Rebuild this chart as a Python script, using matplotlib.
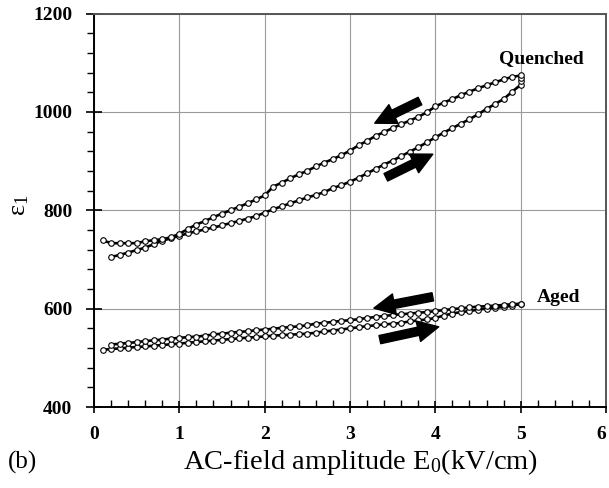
import matplotlib
matplotlib.use('Agg')
import matplotlib.pyplot as plt
from matplotlib.ticker import MultipleLocator

plt.rcParams['font.family'] = ['Liberation Serif', 'DejaVu Serif']
plt.rcParams['mathtext.fontset'] = 'custom'
plt.rcParams['mathtext.rm'] = 'Liberation Serif'
plt.rcParams['mathtext.it'] = 'Liberation Serif:italic'

# Quenched sample, field going up (lower branch)
q_up_x = [0.2, 0.3, 0.4, 0.5, 0.6, 0.7, 0.8, 0.9, 1.0, 1.1, 1.2, 1.3, 1.4, 1.5, 1.6, 1.7,
          1.8, 1.9, 2.0, 2.1, 2.2, 2.3, 2.4, 2.5, 2.6, 2.7, 2.8, 2.9, 3.0, 3.1, 3.2, 3.3,
          3.4, 3.5, 3.6, 3.7, 3.8, 3.9, 4.0, 4.1, 4.2, 4.3, 4.4, 4.5, 4.6, 4.7, 4.8, 4.9,
          5.0, 5.0, 5.0]
q_up_y = [705, 709, 714, 719, 724, 731, 738, 743, 748, 753, 757, 761, 765, 769, 774, 778,
          783, 788, 795, 802, 808, 814, 820, 826, 831, 837, 845, 851, 858, 866, 875, 884,
          893, 901, 910, 919, 928, 938, 948, 958, 967, 976, 985, 995, 1006, 1016, 1026, 1041,
          1055, 1062, 1068]
# Quenched sample, field going down (upper branch)
q_down_x = [5.0, 4.9, 4.8, 4.7, 4.6, 4.5, 4.4, 4.3, 4.2, 4.1, 4.0, 3.9, 3.8, 3.7, 3.6, 3.5,
            3.4, 3.3, 3.2, 3.1, 3.0, 2.9, 2.8, 2.7, 2.6, 2.5, 2.4, 2.3, 2.2, 2.1, 2.0, 1.9,
            1.8, 1.7, 1.6, 1.5, 1.4, 1.3, 1.2, 1.1, 1.0, 0.9, 0.8, 0.7, 0.6, 0.5, 0.4, 0.3,
            0.2, 0.1]
q_down_y = [1074, 1071, 1066, 1060, 1054, 1048, 1041, 1034, 1026, 1019, 1011, 999, 990, 982, 975, 967,
            959, 951, 941, 932, 921, 912, 904, 897, 889, 880, 873, 865, 856, 848, 830, 822,
            814, 807, 800, 793, 786, 778, 771, 762, 752, 745, 741, 739, 737, 733, 733, 733,
            733, 739]

# Aged sample, field going up (lower branch)
a_up_x = [0.1, 0.2, 0.3, 0.4, 0.5, 0.6, 0.7, 0.8, 0.9, 1.0, 1.1, 1.2, 1.3, 1.4, 1.5, 1.6,
          1.7, 1.8, 1.9, 2.0, 2.1, 2.2, 2.3, 2.4, 2.5, 2.6, 2.7, 2.8, 2.9, 3.0, 3.1, 3.2,
          3.3, 3.4, 3.5, 3.6, 3.7, 3.8, 3.9, 4.0, 4.1, 4.2, 4.3, 4.4, 4.5, 4.6, 4.7, 4.8,
          4.9, 5.0]
a_up_y = [516, 518, 519, 520.5, 522, 523, 524.5, 526, 527.5, 529, 530.5, 532, 533.5, 535, 536.5, 538,
          539.5, 541, 542, 543.5, 545, 546, 547, 548, 549, 551, 553.5, 555.5, 557.5, 560, 562, 564.5,
          566, 568, 569, 571, 574, 576, 578, 581, 586, 590, 593, 595, 598, 600, 601.5, 603.5,
          606, 609.5]
# Aged sample, field going down (upper branch)
a_down_x = [5.0, 4.9, 4.8, 4.7, 4.6, 4.5, 4.4, 4.3, 4.2, 4.1, 4.0, 3.9, 3.8, 3.7, 3.6, 3.5,
            3.4, 3.3, 3.2, 3.1, 3.0, 2.9, 2.8, 2.7, 2.6, 2.5, 2.4, 2.3, 2.2, 2.1, 2.0, 1.9,
            1.8, 1.7, 1.6, 1.5, 1.4, 1.3, 1.2, 1.1, 1.0, 0.9, 0.8, 0.7, 0.6, 0.5, 0.4, 0.3,
            0.2]
a_down_y = [610, 609, 607.5, 606, 605, 604, 602.5, 600.5, 599, 597, 595, 593, 591.5, 590, 588.5, 587,
            585, 583, 581, 578.5, 576.5, 575, 573, 571, 569.5, 566, 564, 562.5, 561, 559, 557.5, 556,
            554, 552.5, 551, 549, 547.5, 545, 543, 542, 540.5, 539, 537, 535.5, 534, 532, 530, 528.5,
            527]

x_ticks = [0, 1, 2, 3, 4, 5, 6]
y_ticks = [400, 600, 800, 1000, 1200]

fig = plt.figure(figsize=(6.09, 4.88), dpi=100)
ax = fig.add_axes([94/609, 81/488, 512/609, 393.5/488])

ax.grid(True, color='#9a9a9a', lw=0.8)
ax.set_axisbelow(True)

style = dict(color='k', lw=1.9, marker='o', ms=4.0, mfc='white', mec='k', mew=0.8)
for xs, ys in [(q_up_x, q_up_y), (q_down_x, q_down_y), (a_up_x, a_up_y), (a_down_x, a_down_y)]:
    ax.plot(xs, ys, **style)

ax.set_xlim(0, 6)
ax.set_ylim(400, 1200)
ax.set_xticks(x_ticks)
ax.set_yticks(y_ticks)
ax.xaxis.set_minor_locator(MultipleLocator(0.2))
ax.yaxis.set_minor_locator(MultipleLocator(40))

ax.tick_params(axis='x', which='major', direction='inout', length=9, width=1.2, pad=9)
ax.tick_params(axis='x', which='minor', direction='in', length=5, width=1.0)
ax.tick_params(axis='y', which='major', direction='inout', length=11, width=1.2, pad=10)
ax.tick_params(axis='y', which='minor', direction='out', length=5, width=1.0)
for lab in ax.get_xticklabels() + ax.get_yticklabels():
    lab.set_fontweight('bold')
    lab.set_fontsize(14)
ax.get_xticklabels()[-1].set_ha('right')

for side in ['left', 'bottom', 'top', 'right']:
    ax.spines[side].set_linewidth(1.4)
ax.spines['top'].set_color('#555555')
ax.spines['right'].set_color('#555555')

fig.text(20/609, 1 - 205/488, 'ε$_1$', fontsize=19, rotation=90, ha='center', va='center')
fig.text(360/609, 1 - 462/488, 'AC-field amplitude E$_0$(kV/cm)', fontsize=20.5,
         ha='center', va='center')
fig.text(8/609, 1 - 462/488, '(b)', fontsize=18, ha='left', va='center')

ax.text(5.24, 1109, 'Quenched', fontsize=14, fontweight='bold', ha='center', va='center')
ax.text(5.44, 623, 'Aged', fontsize=14, fontweight='bold', ha='center', va='center')

arrow = dict(arrowstyle='simple,head_length=1.0,head_width=1.0,tail_width=0.4',
             fc='k', ec='k', shrinkA=0, shrinkB=0, mutation_scale=15)
for tail, tip in [((3.82, 1022), (3.29, 977)), ((3.42, 867), (3.97, 914)),
                  ((3.97, 624), (3.28, 601)), ((3.35, 537), (4.04, 563))]:
    ax.annotate('', xy=tip, xytext=tail, arrowprops=arrow)

fig.savefig('out.png', dpi=100)
